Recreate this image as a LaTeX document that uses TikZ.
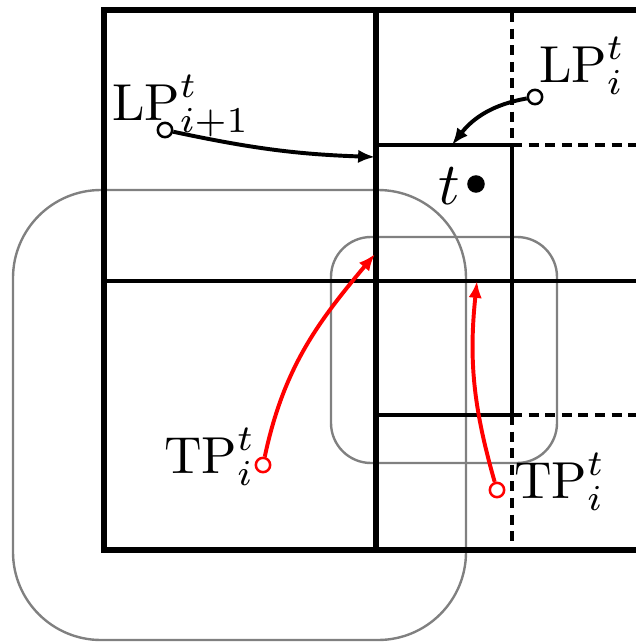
\documentclass[tikz,border=0pt]{standalone}
\usetikzlibrary{arrows.meta}
\tikzset{
  frame/.style={line width=3.8pt},
  midline/.style={line width=3pt},
  thinline/.style={line width=2.15pt},
  dashline/.style={line width=2.15pt, dash pattern=on 7.2pt off 4.6pt},
  zone/.style={draw=gray, line width=1.7pt},
  lab/.style={inner sep=0pt, anchor=base west, scale=3.7},
  pin/.style={circle, draw, fill=white, line width=1.8pt, minimum size=10.2pt, inner sep=0pt},
  conn/.style={line width=2.8pt, -{Latex[length=12pt, width=9.5pt]}},
}
\begin{document}
\begin{tikzpicture}[x=0.25mm, y=-0.25mm]
\useasboundingbox (0,0) rectangle (636,642);
% gray zones
\draw[zone, rounded corners=22mm] (13,190) rectangle (466,640);
\draw[zone, rounded corners=10mm] (331,237) rectangle (557,463);
% grid
\draw[frame] (636,10) -- (104,10) -- (104,550) -- (636,550);
\draw[frame] (376,10) -- (376,550);
\draw[midline] (104,281) -- (636,281);
\draw[thinline] (376,145) -- (512,145) -- (512,415) -- (376,415);
\draw[dashline] (512,12) -- (512,145);
\draw[dashline] (512,145) -- (636,145);
\draw[dashline] (512,415) -- (636,415);
\draw[dashline] (512,415) -- (512,546);
% labels
\node[lab] (lpa) at (111,120) {$\mathrm{LP}^t_{i+1}$};
\node[lab] (lpb) at (538,82) {$\mathrm{LP}^t_{i}$};
\node[lab] (tpa) at (163,473) {$\mathrm{TP}^t_{i}$};
\node[lab] (tpb) at (513,498) {$\mathrm{TP}^t_{i}$};
\node[lab, scale=1.15] (tl) at (437,204) {$t$};
\node[circle, fill=black, minimum size=12.5pt, inner sep=0pt] (dot) at (476,184) {};
% targets
\coordinate (a1) at (375,157);
\coordinate (a2) at (452,145);
\coordinate (a3) at (375,254);
\coordinate (a4) at (477,281);
% pins
\node[pin] (c1) at (165,130) {};
\node[pin] (c2) at (535,97) {};
\node[pin, draw=red] (c3) at (263,465) {};
\node[pin, draw=red] (c4) at (497,490) {};
% connectors
\draw[conn] (c1) to[out=-12, in=178] (a1);
\draw[conn] (c2) to[out=190, in=52] (a2);
\draw[conn, red] (c3) to[out=78, in=230] (a3);
\draw[conn, red] (c4) to[out=106, in=264] (a4);
\end{tikzpicture}
\end{document}
